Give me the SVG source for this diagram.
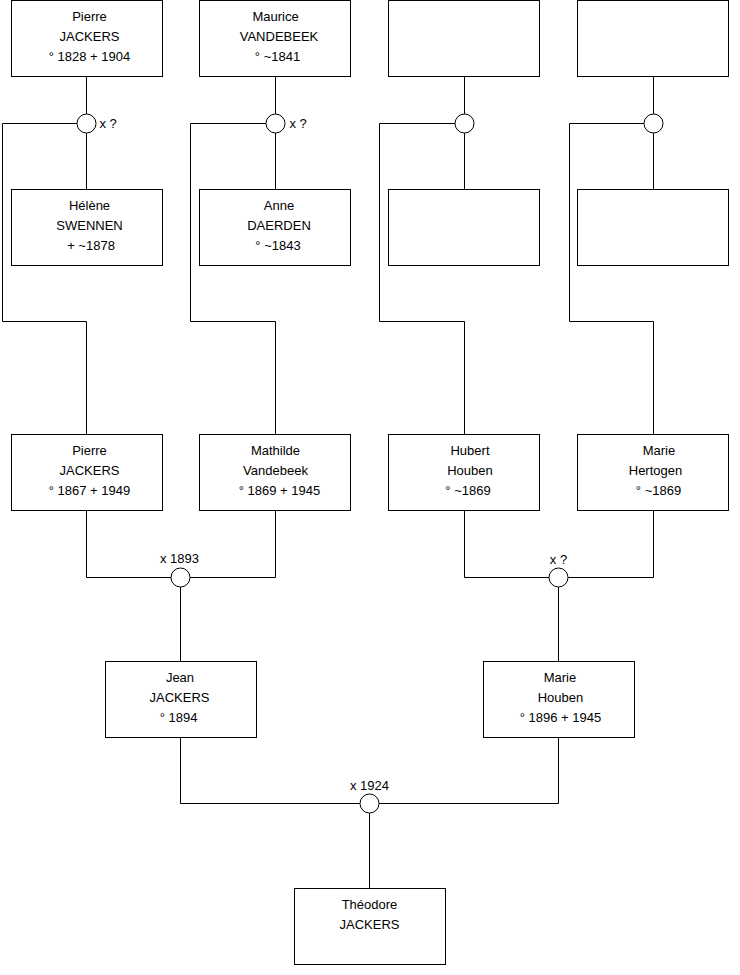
<svg xmlns="http://www.w3.org/2000/svg" width="740" height="975" viewBox="0 0 740 975">
<style>
.box{fill:#fff;stroke:#000;stroke-width:1}
.c{fill:#fff;stroke:#000;stroke-width:1}
.ln{fill:none;stroke:#000;stroke-width:1}
text{font-family:"Liberation Sans",Arial,sans-serif;font-size:13px;fill:#000;text-anchor:middle}
.lbl{text-anchor:start}
</style>
<rect width="740" height="975" fill="#fff"/>
<g id="connectors">
<path class="ln" d="M86.5 76.5V114M86.5 133V189.5M77 123.5H2.5V321.5H86.5V434.5"/>
<path class="ln" d="M275.5 76.5V114M275.5 133V189.5M266 123.5H190.5V321.5H275.5V434.5"/>
<path class="ln" d="M464.5 76.5V114M464.5 133V189.5M455 123.5H379.5V321.5H464.5V434.5"/>
<path class="ln" d="M653.5 76.5V114M653.5 133V189.5M644 123.5H569.5V321.5H653.5V434.5"/>
<path class="ln" d="M86.5 510.5V577.5H171M190 577.5H275.5V510.5M180.5 587V661.5"/>
<path class="ln" d="M464.5 510.5V577.5H549M568 577.5H653.5V510.5M558.5 587V661.5"/>
<path class="ln" d="M180.5 737.5V803.5H360M379 803.5H558.5V737.5M369.5 813V888.5"/>
<circle class="c" cx="86.5" cy="123.5" r="9.5"/>
<circle class="c" cx="275.5" cy="123.5" r="9.5"/>
<circle class="c" cx="464.5" cy="123.5" r="9.5"/>
<circle class="c" cx="653.5" cy="123.5" r="9.5"/>
<circle class="c" cx="180.5" cy="577.5" r="9.5"/>
<circle class="c" cx="558.5" cy="577.5" r="9.5"/>
<circle class="c" cx="369.5" cy="803.5" r="9.5"/>
<text class="lbl" x="99.5" y="128">x ?</text>
<text class="lbl" x="289.5" y="128">x ?</text>
<text x="179.5" y="563">x 1893</text>
<text x="558.5" y="564">x ?</text>
<text x="369.5" y="790">x 1924</text>
</g>
<g id="pierre1828">
<rect class="box" x="11.5" y="0.5" width="151" height="76"/>
<text x="89.5" y="20.5">Pierre</text>
<text x="89.5" y="40.5">JACKERS</text>
<text x="89.5" y="60.5">° 1828 + 1904</text>
</g>
<g id="maurice">
<rect class="box" x="199.5" y="0.5" width="151" height="76"/>
<text x="275.5" y="20.5">Maurice</text>
<text x="279" y="40.5">VANDEBEEK</text>
<text x="277.5" y="60.5">° ~1841</text>
</g>
<g id="unknown1">
<rect class="box" x="388.5" y="0.5" width="151" height="76"/>
</g>
<g id="unknown2">
<rect class="box" x="577.5" y="0.5" width="151" height="76"/>
</g>
<g id="helene">
<rect class="box" x="11.5" y="189.5" width="151" height="76"/>
<text x="89.5" y="210">Hélène</text>
<text x="89.5" y="230">SWENNEN</text>
<text x="91" y="250">+ ~1878</text>
</g>
<g id="anne">
<rect class="box" x="199.5" y="189.5" width="151" height="76"/>
<text x="279" y="210">Anne</text>
<text x="279" y="230">DAERDEN</text>
<text x="278" y="250">° ~1843</text>
</g>
<g id="unknown3">
<rect class="box" x="388.5" y="189.5" width="151" height="76"/>
</g>
<g id="unknown4">
<rect class="box" x="577.5" y="189.5" width="151" height="76"/>
</g>
<g id="pierre1867">
<rect class="box" x="11.5" y="434.5" width="151" height="76"/>
<text x="89.5" y="455">Pierre</text>
<text x="89.5" y="475">JACKERS</text>
<text x="89.5" y="495">° 1867 + 1949</text>
</g>
<g id="mathilde">
<rect class="box" x="199.5" y="434.5" width="151" height="76"/>
<text x="275.5" y="455">Mathilde</text>
<text x="275.5" y="475">Vandebeek</text>
<text x="279.5" y="495">° 1869 + 1945</text>
</g>
<g id="hubert">
<rect class="box" x="388.5" y="434.5" width="151" height="76"/>
<text x="470" y="455">Hubert</text>
<text x="470" y="475">Houben</text>
<text x="468" y="495">° ~1869</text>
</g>
<g id="marieHertogen">
<rect class="box" x="577.5" y="434.5" width="151" height="76"/>
<text x="659" y="455">Marie</text>
<text x="655.5" y="475">Hertogen</text>
<text x="658.5" y="495">° ~1869</text>
</g>
<g id="jean">
<rect class="box" x="105.5" y="661.5" width="151" height="76"/>
<text x="180" y="682">Jean</text>
<text x="179.5" y="702">JACKERS</text>
<text x="178.5" y="722">° 1894</text>
</g>
<g id="marieHouben">
<rect class="box" x="483.5" y="661.5" width="151" height="76"/>
<text x="560" y="682">Marie</text>
<text x="560.5" y="702">Houben</text>
<text x="560.5" y="722">° 1896 + 1945</text>
</g>
<g id="theodore">
<rect class="box" x="294.5" y="888.5" width="151" height="76"/>
<text x="369.5" y="909">Théodore</text>
<text x="369.5" y="929">JACKERS</text>
</g>
</svg>
